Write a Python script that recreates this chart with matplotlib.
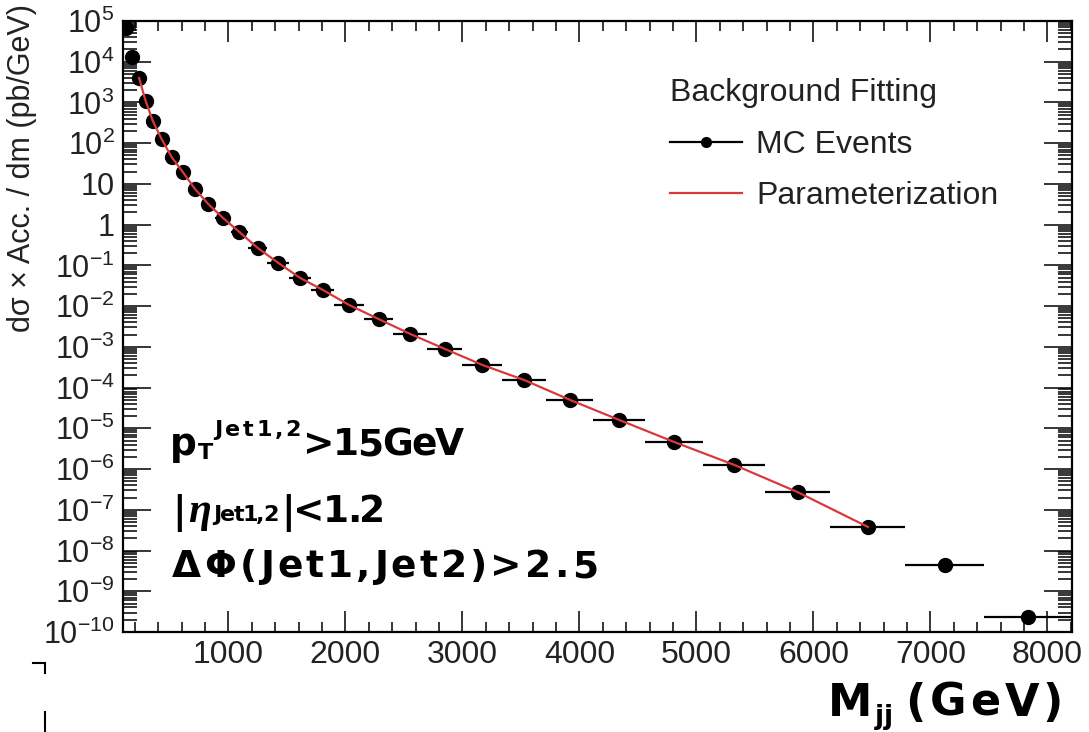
import matplotlib
matplotlib.use('Agg')
import matplotlib.pyplot as plt
import numpy as np
from matplotlib.ticker import FixedLocator, FixedFormatter, LogLocator, NullFormatter, MultipleLocator
from matplotlib.lines import Line2D
from matplotlib.font_manager import FontProperties, findfont, get_font

W, H, DPI = 1089, 732, 100

# ---------------- data ----------------
bin_edges = [100, 150, 209, 265, 321, 389, 470, 560, 662, 769, 889, 1021, 1167,
             1333, 1521, 1709, 1906, 2162, 2410, 2701, 3000, 3342, 3718, 4120,
             4564, 5060, 5590, 6145, 6786, 7462, 8210]
mc_xsec = [6.7e4, 1.3e4, 4.0e3, 1.1e3, 3.5e2, 1.27e2, 46, 19.6, 7.5, 3.2, 1.46,
           0.66, 0.27, 0.115, 0.049, 0.025, 0.0106, 4.8e-3, 2.07e-3, 8.9e-4,
           3.6e-4, 1.53e-4, 5.0e-5, 1.6e-5, 4.6e-6, 1.26e-6, 2.7e-7, 3.8e-8,
           4.4e-9, 2.3e-10]
fit_first, fit_last = 2, 27   # bins covered by the parameterization curve

x_ticks = [1000, 2000, 3000, 4000, 5000, 6000, 7000, 8000]
x_tick_labels = ["1000", "2000", "3000", "4000", "5000", "6000", "7000", "8000"]
y_tick_exponents = [5, 4, 3, 2, 1, 0, -1, -2, -3, -4, -5, -6, -7, -8, -9, -10]
y_tick_labels = [r"$10^{5}$", r"$10^{4}$", r"$10^{3}$", r"$10^{2}$", "10", "1",
                 r"$10^{-1}$", r"$10^{-2}$", r"$10^{-3}$", r"$10^{-4}$", r"$10^{-5}$",
                 r"$10^{-6}$", r"$10^{-7}$", r"$10^{-8}$", r"$10^{-9}$", r"$10^{-10}$"]

legend_title = "Background Fitting"
label_mc = "MC Events"
label_fit = "Parameterization"
y_label = "dσ × Acc. / dm (pb/GeV)"

# ---------------- style ----------------
plt.rcParams['font.family'] = ['Liberation Sans', 'DejaVu Sans']
plt.rcParams['mathtext.fontset'] = 'custom'
plt.rcParams['mathtext.rm'] = 'Liberation Sans'
plt.rcParams['mathtext.it'] = 'Liberation Sans:italic'
plt.rcParams['mathtext.bf'] = 'Liberation Sans:bold'

TXT = '#222222'
RED = '#d8393b'
ANN = 'DejaVu Sans'
SER = 'Liberation Serif'

fig = plt.figure(figsize=(W / DPI, H / DPI), dpi=DPI)
ax = fig.add_axes([123 / W, 1 - 632 / H, 949 / W, 611 / H])

edges = np.array(bin_edges, dtype=float)
centers = 0.5 * (edges[:-1] + edges[1:])
halfw = 0.5 * (edges[1:] - edges[:-1])
yvals = np.array(mc_xsec)

ax.errorbar(centers, yvals, xerr=halfw, fmt='o', color='black', ms=10,
            elinewidth=1.6, capsize=0, zorder=3)
ax.plot(centers[fit_first:fit_last + 1], yvals[fit_first:fit_last + 1],
        color=RED, lw=1.6, zorder=4)

ax.set_yscale('log')
ax.set_xlim(100, 8210)
ax.set_ylim(1e-10, 1e5)

ax.xaxis.set_major_locator(FixedLocator(x_ticks))
ax.xaxis.set_major_formatter(FixedFormatter(x_tick_labels))
ax.xaxis.set_minor_locator(MultipleLocator(200))
ax.yaxis.set_major_locator(FixedLocator([10.0 ** e for e in y_tick_exponents]))
ax.yaxis.set_major_formatter(FixedFormatter(y_tick_labels))
ax.yaxis.set_minor_locator(LogLocator(base=10, subs=np.arange(2, 10), numticks=100))
ax.yaxis.set_minor_formatter(NullFormatter())

ax.tick_params(axis='x', which='major', direction='in', length=15, width=1.1,
               top=True, bottom=True, labelsize=23, pad=6, labelcolor=TXT)
ax.tick_params(axis='x', which='minor', direction='in', length=7.5, width=1.1,
               top=True, bottom=True)
ax.tick_params(axis='y', which='major', direction='in', length=20, width=1.1,
               left=True, right=True, labelsize=22, pad=6, labelcolor=TXT)
ax.tick_params(axis='y', which='minor', direction='in', length=10, width=1.1,
               left=True, right=True)
for s in ax.spines.values():
    s.set_linewidth(1.6)
    s.set_color('black')

fig.text(22 / W, 1 - 168 / H, y_label, rotation=90, ha='center', va='center',
         fontsize=22, color=TXT)

# legend
h_mc = Line2D([], [], color='black', lw=1.6, marker='o', ms=7)
h_fit = Line2D([], [], color=RED, lw=1.6)
leg = fig.legend([h_mc, h_fit], [label_mc, label_fit], title=legend_title,
                 loc='upper left', bbox_to_anchor=(670 / W, 1 - 78 / H),
                 frameon=False, fontsize=23, title_fontsize=23,
                 handlelength=2.25, handletextpad=0.45, labelspacing=0.68,
                 borderpad=0, borderaxespad=0, alignment='left')
for t in leg.get_texts():
    t.set_color(TXT)
leg.get_title().set_color(TXT)


# ---------------- annotation text ----------------
def advances(txt, prop):
    f = get_font(findfont(prop))
    f.set_size(prop.get_size_in_points(), DPI)
    return [f.load_char(ord(ch)).linearHoriAdvance / 65536.0 for ch in txt]


def spaced(txt, x0, x1, base, size, dy=0, family=ANN, style='normal',
           weight='bold', tmin=-2.0, tmax=3.5):
    """Place text char by char, with a small letter spacing chosen to reach x1."""
    prop = FontProperties(family=family, size=size, style=style, weight=weight)
    adv = advances(txt, prop)
    n = len(txt)
    track = (x1 - x0 - sum(adv)) / (n - 1) if n > 1 else 0.0
    track = min(max(track, tmin), tmax)
    x = x0
    for ch, a in zip(txt, adv):
        fig.text(x / W, 1 - (base - dy) / H, ch, fontproperties=prop,
                 ha='left', va='baseline', color='black')
        x += a + track
    return x - track


# line 1: p_T^{Jet1,2} > 15GeV
x = spaced("p", 170, 197, 455, 27)
x = spaced("T", x + 1, x + 16, 455, 16, dy=-4)
x = spaced("Jet1,2", x + 1, 301, 455, 16, dy=19)
spaced(">15GeV", x + 2, 464, 455, 27)
# line 2: |eta_{Jet1,2}| < 1.2
x = spaced("|", 172, 184, 522, 27)
x = spaced("η", x + 2, x + 24, 522, 30, family=SER, style='italic')
x = spaced("Jet1,2", x + 3, x + 68, 522, 16, dy=1)
spaced("|<1.2", x + 3, 382, 522, 27)
# line 3
spaced("ΔΦ(Jet1,Jet2)>2.5", 172, 598, 577, 27)

# axis title M_jj (GeV)
x = spaced("M", 828, 868, 716, 32)
x = spaced("jj", x + 3, x + 21, 716, 19, dy=-8)
spaced("(GeV)", x + 12, 1077, 716, 32, tmax=4.0)

# stray marks from the source slide
for xs, ys in [([33, 45], [663, 663]), ([45, 45], [663, 673]), ([45, 45], [712, 732])]:
    fig.add_artist(Line2D([v / W for v in xs], [1 - v / H for v in ys],
                          color='black', lw=1.5))

fig.savefig('out.png', dpi=DPI)
